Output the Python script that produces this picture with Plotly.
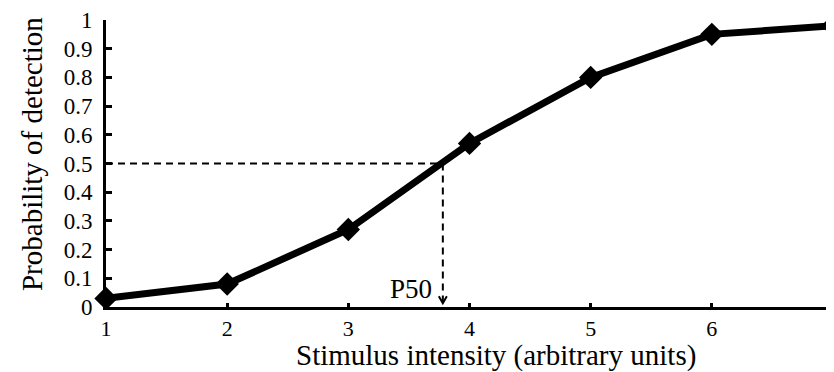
import plotly.graph_objects as go

intensity = [1, 2, 3, 4, 5, 6, 7]
probability = [0.03, 0.08, 0.27, 0.57, 0.80, 0.95, 0.98]
p50_x = 3.78
p50_y = 0.5
y_ticks = [0, 0.1, 0.2, 0.3, 0.4, 0.5, 0.6, 0.7, 0.8, 0.9, 1]
y_tick_labels = ["0", "0.1", "0.2", "0.3", "0.4", "0.5", "0.6", "0.7", "0.8", "0.9", "1"]
x_title = "Stimulus intensity (arbitrary units)"
y_title = "Probability of detection"

FONT = "Liberation Serif"

fig = go.Figure()
fig.add_trace(go.Scatter(
    x=intensity, y=probability, mode="lines+markers",
    line=dict(color="black", width=7),
    marker=dict(symbol="diamond", size=18, color="black"),
    cliponaxis=False, showlegend=False,
))

# dashed guide lines
fig.add_shape(type="line", x0=intensity[0], x1=p50_x, y0=p50_y, y1=p50_y,
              line=dict(color="black", width=2, dash="7px,5px"))
fig.add_shape(type="line", x0=p50_x, x1=p50_x, y0=p50_y, y1=0.015,
              line=dict(color="black", width=2, dash="7px,5px"))
# open arrow head
fig.add_shape(type="path", xsizemode="pixel", ysizemode="pixel",
              xanchor=p50_x, yanchor=0.013,
              path="M -4,7 L 0,0 L 4,7",
              line=dict(color="black", width=2))
fig.add_annotation(x=p50_x, y=0, text="P50", showarrow=False,
                   xanchor="right", yanchor="bottom", xshift=-9, yshift=1,
                   font=dict(family=FONT, size=27, color="black"))

# axis titles as annotations for exact placement
fig.add_annotation(x=0.5, y=0, xref="paper", yref="paper", text=x_title,
                   showarrow=False, xanchor="center", yanchor="middle",
                   xshift=26, yshift=-48,
                   font=dict(family=FONT, size=29, color="black"))
fig.add_annotation(x=0, y=0.533, xref="paper", yref="paper", text=y_title,
                   showarrow=False, textangle=-90, xanchor="center", yanchor="middle",
                   xshift=-74,
                   font=dict(family=FONT, size=29, color="black"))

# page body has an 8px margin, so the figure is sized to the remaining area
fig.update_layout(
    width=826, height=364,
    margin=dict(l=98, r=1, t=12, b=65, autoexpand=False),
    paper_bgcolor="white", plot_bgcolor="white",
    font=dict(family=FONT, color="black"),
)
fig.update_xaxes(
    range=[1, 7], tickvals=intensity, ticktext=[str(v) for v in intensity],
    automargin=False, ticklabeloverflow="allow",
    showgrid=False, zeroline=False, showline=True, linecolor="black", linewidth=3,
    ticks="inside", ticklen=4, tickwidth=3, tickcolor="black",
    tickfont=dict(family=FONT, size=22),
)
fig.update_yaxes(
    range=[0, 1], tickvals=y_ticks, ticktext=y_tick_labels,
    automargin=False, ticklabeloverflow="allow", ticklabelstandoff=6,
    showgrid=False, zeroline=False, showline=True, linecolor="black", linewidth=3,
    ticks="inside", ticklen=6, tickwidth=3, tickcolor="black",
    tickfont=dict(family=FONT, size=23),
)

fig.write_html("out.html")
